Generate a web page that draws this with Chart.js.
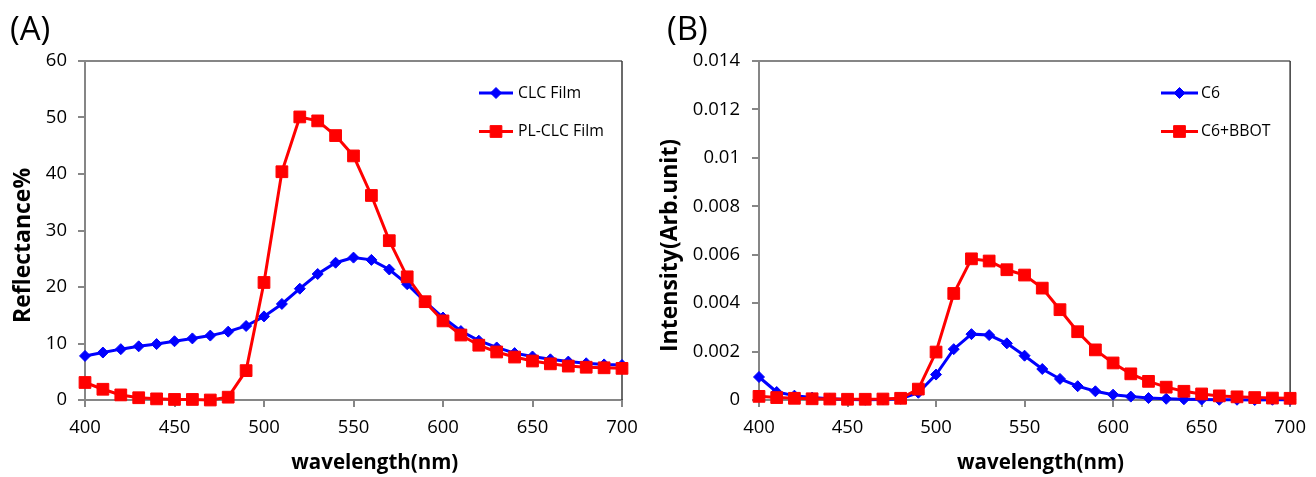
<!DOCTYPE html>
<html>
<head>
<meta charset="utf-8">
<script src="https://cdn.jsdelivr.net/npm/chart.js@4.4.0/dist/chart.umd.min.js"></script>
<style>
html,body{margin:0;padding:0;background:#fff;}
body{width:1316px;height:477px;position:relative;overflow:hidden;font-family:"Open Sans",sans-serif;}
.panel{position:absolute;top:0;width:658px;height:477px;}
.lbl{position:absolute;font-size:33px;line-height:33px;color:#000;font-family:"Open Sans",sans-serif;}
</style>
</head>
<body>
<div class="panel" style="left:0"><canvas id="chartA"></canvas></div>
<div class="panel" style="left:658px"><canvas id="chartB"></canvas></div>
<div class="lbl" style="left:10px;top:11px">(A)</div>
<div class="lbl" style="left:667px;top:11px">(B)</div>
<script>
// ---- data ----
const wavelength = [400,410,420,430,440,450,460,470,480,490,500,510,520,530,540,550,560,570,580,590,600,610,620,630,640,650,660,670,680,690,700];
const clcFilm   = [7.8,8.4,9.0,9.5,9.9,10.4,10.9,11.4,12.1,13.1,14.8,17.0,19.7,22.3,24.3,25.2,24.8,23.1,20.5,17.4,14.6,12.2,10.5,9.3,8.3,7.7,7.2,6.8,6.5,6.3,6.2];
const plClcFilm = [3.1,1.9,0.9,0.4,0.2,0.1,0.1,0.0,0.5,5.2,20.8,40.4,50.1,49.4,46.8,43.2,36.2,28.2,21.8,17.4,14.0,11.5,9.7,8.5,7.6,6.9,6.4,6.0,5.8,5.7,5.6];
const c6     = [0.00095,0.00033,0.00018,0.0001,0.00005,0.00002,0.00001,0.00002,0.00005,0.0003,0.00105,0.0021,0.00272,0.00268,0.00234,0.00183,0.00128,0.00087,0.00057,0.00036,0.00022,0.00014,0.00008,0.00005,0.00003,0.00002,0.00001,0.00001,0.0,0.00001,0.00001];
const c6Bbot = [0.00015,0.0001,0.00007,0.00005,0.00004,0.00003,0.00003,0.00004,0.00007,0.00045,0.00198,0.0044,0.00583,0.00574,0.00538,0.00516,0.00462,0.00373,0.00282,0.00207,0.00153,0.00108,0.00077,0.00053,0.00036,0.00025,0.00017,0.00013,0.0001,0.00008,0.00007];
const xTickLabels  = ['400','450','500','550','600','650','700'];
const yTickLabelsA = ['0','10','20','30','40','50','60'];
const yTickLabelsB = ['0','0.002','0.004','0.006','0.008','0.01','0.012','0.014'];
const seriesNamesA = ['CLC Film','PL-CLC Film'];
const seriesNamesB = ['C6','C6+BBOT'];

Chart.defaults.font.family = "'Open Sans', sans-serif";
Chart.defaults.color = '#000';

const AXIS = '#868686';

const framePlugin = {
  id: 'frame',
  beforeDatasetsDraw(chart) {
    const {ctx, chartArea: {left, right, top, bottom}} = chart;
    ctx.save();
    ctx.strokeStyle = AXIS; ctx.lineWidth = 2;
    ctx.beginPath(); ctx.moveTo(left - 1, top); ctx.lineTo(right, top); ctx.stroke();
    ctx.strokeStyle = '#3a3a3a'; ctx.lineWidth = 1.5;
    ctx.beginPath(); ctx.moveTo(right, top); ctx.lineTo(right, bottom); ctx.stroke();
    ctx.restore();
  }
};

function drawMarker(ctx, style, r, x, y) {
  if (Chart.helpers && Chart.helpers.drawPoint) {
    Chart.helpers.drawPoint(ctx, {pointStyle: style, rotation: 0, radius: r, borderWidth: 1}, x, y);
    return;
  }
  ctx.beginPath();
  if (style === 'rect') { const s = r * Math.SQRT1_2; ctx.rect(x - s, y - s, 2 * s, 2 * s); }
  else { ctx.moveTo(x - r, y); ctx.lineTo(x, y - r); ctx.lineTo(x + r, y); ctx.lineTo(x, y + r); ctx.closePath(); }
  ctx.fill(); ctx.stroke();
}

const insideLegend = {
  id: 'insideLegend',
  afterDraw(chart, args, o) {
    const ctx = chart.ctx;
    chart.data.datasets.forEach((ds, i) => {
      const y = o.y0 + i * o.dy;
      ctx.save();
      ctx.strokeStyle = ds.borderColor; ctx.lineWidth = 3;
      ctx.beginPath(); ctx.moveTo(o.x0, y); ctx.lineTo(o.x1, y); ctx.stroke();
      ctx.fillStyle = ds.backgroundColor; ctx.strokeStyle = ds.borderColor; ctx.lineWidth = 1;
      drawMarker(ctx, ds.pointStyle, ds.pointRadius, (o.x0 + o.x1) / 2, y);
      ctx.fillStyle = '#000'; ctx.font = o.font; ctx.textBaseline = 'middle'; ctx.textAlign = 'left';
      ctx.fillText(ds.label, o.tx, y);
      ctx.restore();
    });
  }
};

function series(label, ys, color, style, radius, order) {
  return {
    label, order,
    data: wavelength.map((x, i) => ({x, y: ys[i]})),
    borderColor: color, backgroundColor: color,
    borderWidth: 3, tension: 0,
    pointStyle: style, pointRadius: radius, pointBorderWidth: 1,
    pointBackgroundColor: color, pointBorderColor: color,
    clip: false
  };
}

function makeChart(id, opt) {
  return new Chart(document.getElementById(id), {
    type: 'line',
    data: {datasets: [
      series(opt.names[0], opt.s1, '#0000FF', 'rectRot', 5.5, 1),
      series(opt.names[1], opt.s2, '#FF0000', 'rect', 8.3, 0)
    ]},
    options: {
      responsive: true, maintainAspectRatio: false, animation: false,
      layout: {padding: {left: 0, top: 61, right: opt.padRight, bottom: 0}},
      plugins: {
        legend: {display: false}, tooltip: {enabled: false},
        insideLegend: opt.legend
      },
      scales: {
        x: {
          type: 'linear', min: 400, max: 700,
          afterFit(s) { s.height = 77; },
          border: {color: AXIS, width: 2},
          grid: {drawOnChartArea: false, drawTicks: true, tickLength: 7, color: AXIS, lineWidth: 2},
          ticks: {stepSize: 50, padding: 10, maxRotation: 0, autoSkip: false, color: '#000', font: {size: 18.5},
                  callback: (v, i) => xTickLabels[i]},
          title: {display: true, text: opt.xTitle, color: '#000',
                  font: {size: 20.5, weight: 'bold', lineHeight: 1}, padding: {top: 0, bottom: 4}}
        },
        y: {
          min: opt.yMin, max: opt.yMax,
          afterFit(s) { s.width = opt.yWidth; },
          border: {color: AXIS, width: 2},
          grid: {drawOnChartArea: false, drawTicks: true, tickLength: 7, color: AXIS, lineWidth: 2},
          ticks: {stepSize: opt.yStep, padding: opt.yPad, color: '#000', font: {size: 18.5},
                  callback: (v, i) => opt.yLabels[i]},
          title: {display: true, text: opt.yTitle, color: '#000',
                  font: {size: 23, weight: 'bold', lineHeight: 1}, padding: {top: opt.yTitlePad, bottom: 0}}
        }
      }
    },
    plugins: [framePlugin, insideLegend]
  });
}

makeChart('chartA', {
  names: seriesNamesA, s1: clcFilm, s2: plClcFilm,
  padRight: 36, yWidth: 85, yPad: 11, yTitlePad: 11.5,
  yMin: 0, yMax: 60, yStep: 10, yLabels: yTickLabelsA,
  xTitle: '        wavelength(nm)', yTitle: 'Reflectance%     ',
  legend: {x0: 479, x1: 513, tx: 518, y0: 93, dy: 38.5, font: "15.8px 'Open Sans', sans-serif"}
});

makeChart('chartB', {
  names: seriesNamesB, s1: c6, s2: c6Bbot,
  padRight: 19, yWidth: 101, yPad: 12, yTitlePad: 0.5,
  yMin: 0, yMax: 0.014, yStep: 0.002, yLabels: yTickLabelsB,
  xTitle: '      wavelength(nm)', yTitle: 'Intensity(Arb.unit)     ',
  legend: {x0: 503, x1: 540, tx: 543, y0: 93, dy: 38.5, font: "15.8px 'Open Sans', sans-serif"}
});
</script>
</body>
</html>
